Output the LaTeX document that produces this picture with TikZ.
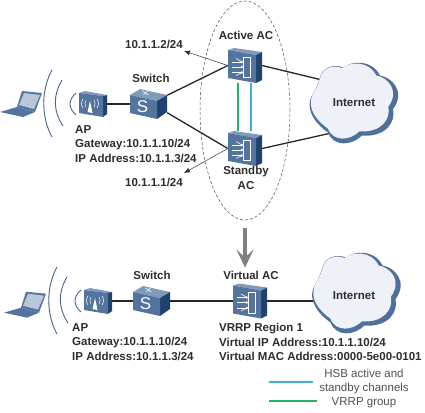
\documentclass[tikz,border=0pt]{standalone}
\usepackage{fontspec}
\usepackage{xcolor}
\setmainfont{Liberation Sans}
\usetikzlibrary{positioning,arrows.meta,shapes.geometric}
\definecolor{facemid}{RGB}{82,116,158}
\definecolor{facetop}{RGB}{130,154,186}
\definecolor{faceside}{RGB}{32,66,108}
\definecolor{cloudedge}{RGB}{78,112,155}
\definecolor{cloudfill}{RGB}{238,241,247}
\definecolor{wavecol}{RGB}{70,100,142}
\definecolor{hsbline}{RGB}{60,175,215}
\definecolor{vrrpline}{RGB}{40,175,105}
\definecolor{inktext}{RGB}{45,45,45}
\definecolor{legendtext}{RGB}{80,80,80}
\tikzset{
  lbl/.style={font=\fontsize{11.5}{14.5}\selectfont\bfseries,color=inktext,inner sep=0pt},
  legendlbl/.style={font=\fontsize{11.5}{14.5}\selectfont,color=legendtext,inner sep=0pt,align=center},
  apbox/.style={minimum width=28pt,minimum height=26pt,inner sep=0pt},
  swbox/.style={minimum width=37pt,minimum height=30pt,inner sep=0pt},
  acbox/.style={minimum width=34pt,minimum height=35pt,inner sep=0pt},
  netbox/.style={ellipse,minimum width=80pt,minimum height=72pt,inner sep=0pt},
  link/.style={line width=1.3pt,color=black!85},
  thinlink/.style={line width=0.5pt,color=black!80,-{Latex[length=6pt,width=5pt]}},
  cloudpath/.style={insert path={
    (-34,-26) .. controls (-32,-36) and (-20,-40) .. (-10.7,-36)
    .. controls (-2,-43) and (18,-44) .. (26,-28)
    .. controls (38,-26) and (52,-12) .. (39,5.7)
    .. controls (42,18) and (32,34) .. (8,32)
    .. controls (-2,42) and (-20,44) .. (-26,29)
    .. controls (-36,22) and (-50,8) .. (-42,-8)
    .. controls (-38,-14) and (-36,-20) .. (-34,-26) -- cycle}},
  pics/cloudicon/.style={code={
    \fill[cloudedge] [cloudpath];
    \fill[cloudfill,shift={(-2,-2)},scale=0.93] [cloudpath];
  }},
  pics/laptopicon/.style={code={
    \fill[facemid] (0,112) -- (17,107) -- (35,112) -- (23,117) -- cycle;
    \fill[facemid] (22,91) -- (42,93) -- (35,112) -- (17,107) -- cycle;
    \fill[facetop!55!white] (24,93) -- (40,95) -- (34,109) -- (19,105) -- cycle;
  }},
  pics/waveicon/.style={code={
    \draw[wavecol,line width=0.9pt] (52,70) .. controls (41,90) and (41,117) .. (52,137);
    \draw[wavecol,line width=0.9pt] (62,80) .. controls (53,95) and (53,111) .. (63,126);
    \draw[wavecol,line width=0.9pt] (76,93) .. controls (68,100) and (68,108) .. (76,115);
  }},
  pics/apicon/.style={code={
    \fill[facetop] (-14,-11) -- (-8,-13) -- (14,-9) -- (10,-8) -- cycle;
    \fill[faceside] (10,-8) -- (14,-9) -- (14,10) -- (10,13) -- cycle;
    \fill[facemid] (-14,-11) -- (10,-8) -- (10,13) -- (-14,9) -- cycle;
    \fill[white] (-3,-3) -- (-0.5,9) -- (-5.5,8) -- cycle;
    \draw[white,line width=0.5pt] (-7,-4) .. controls (-8.5,-2) and (-8.5,1) .. (-7,3)
      (1,-4) .. controls (2.5,-2) and (2.5,1) .. (1,3)
      (-10,-5) .. controls (-12,-2) and (-12,1) .. (-10,4)
      (4,-5) .. controls (6,-2) and (6,1) .. (4,4);
  }},
  pics/swicon/.style={code={
    \fill[facetop] (-18.5,-9) -- (-8.5,-15) -- (18.5,-9) -- (8.5,-3) -- cycle;
    \fill[faceside] (8.5,-3) -- (18.5,-9) -- (18.5,8) -- (8.5,15) -- cycle;
    \fill[facemid] (-18.5,-9) -- (8.5,-3) -- (8.5,15) -- (-18.5,9) -- cycle;
    \draw[white,line width=0.5pt] (-6,-13) -- (0,-9) (-1,-13) -- (-5,-9);
    \node[font=\fontsize{17}{17}\selectfont,color=white,inner sep=0pt] (letter) at (-6,3) {S};
  }},
  pics/acicon/.style={code={
    \fill[facetop] (-17,-15.5) -- (-11,-17.5) -- (17,-13.5) -- (11,-10.5) -- cycle;
    \fill[faceside] (11,-10.5) -- (17,-13.5) -- (17,14.5) -- (11,17.5) -- cycle;
    \fill[facemid] (-17,-15.5) -- (11,-10.5) -- (11,17.5) -- (-17,12.5) -- cycle;
    \draw[white,line width=0.6pt] (-2,-8.5) rectangle (5,12);
    \draw[white,line width=0.6pt,-{Latex[length=3pt,width=3pt]}] (-13,-3.5) -- (-1,-3.5);
    \draw[white,line width=0.6pt,-{Latex[length=3pt,width=3pt]}] (-13,1.5) -- (-1,1.5);
    \draw[white,line width=0.6pt,-{Latex[length=3pt,width=3pt]}] (-13,7) -- (-1,7);
    \draw[white,line width=0.6pt] (-9,-7) -- (-3,-3.5) (-9,10) -- (-3,7);
  }},
}
\begin{document}
\begin{tikzpicture}[x=1pt,y=-1pt]
    \useasboundingbox (0,0) rectangle (425,412);
    % Upper devices
    \node[apbox] (apA) at (93,104) {};
    \node[swbox] (swA) at (148.5,104) {};
    \node[acbox] (acA) at (245,65.5) {};
    \node[acbox] (acS) at (245,148.5) {};
    \node[netbox] (netA) at (354,103.5) {};
    \coordinate (tipA) at (184,51);
    \coordinate (tipS) at (184,173);
    % Upper links
    \draw[link] (apA.east) -- (swA.west);
    \draw[link] (swA.25) -- (acA.west);
    \draw[link] (swA.-25) -- (acS.west);
    \draw[link] (acA.east) -- (netA.143);
    \draw[link] (acS.east) -- (netA.232);
    \draw[thinlink] (acA.west) -- (tipA);
    \draw[thinlink] (acS.west) -- (tipS);
    \draw[vrrpline,line width=1.2pt] ([xshift=-7pt]acA.south) -- ([xshift=-7pt]acS.north);
    \draw[hsbline,line width=1.2pt] ([xshift=6pt]acA.south) -- ([xshift=6pt]acS.north);
    \pic at (0,0) {laptopicon};
    \pic at (0,0) {waveicon};
    \pic (apAface) at (apA) {apicon};
    \pic (swAface) at (swA) {swicon};
    \pic (acAface) at (acA) {acicon};
    \pic (acSface) at (acS) {acicon};
    \pic at (354,103.5) {cloudicon};
    \node[lbl] (netAtxt) at (354,103) {Internet};
    % Upper labels
    \node[lbl] (activetxt) at (246,35) {Active AC};
    \node[lbl] (swAtxt) at (151,78) {Switch};
    \node[lbl,anchor=west] (ipAtxt) at (125,44) {10.1.1.2/24};
    \node[lbl,anchor=west] (ipStxt) at (125,182) {10.1.1.1/24};
    \node[lbl,anchor=north west,align=left] (apAtxt) at (75,125) {AP\\Gateway:10.1.1.10/24\\IP Address:10.1.1.3/24};
    \node[lbl,anchor=north,align=center] (standbytxt) at (246,166) {Standby\\AC};
    \node[ellipse,draw=black!70,line width=0.5pt,dash pattern=on 3pt off 2pt,minimum width=90pt,minimum height=219pt,inner sep=0pt] (acgroup) at (245,110.5) {};
    % Lower devices
    \node[apbox] (apV) at (98,301) {};
    \node[swbox] (swV) at (151.5,301) {};
    \node[acbox] (acV) at (250,301) {};
    \node[netbox] (netV) at (354,296) {};
    \draw[link] (apV.east) -- (swV.west);
    \draw[link] (swV.east) -- (acV.west);
    \draw[link] (acV.east) -- (acV.east -| netV.west);
    \pic at (4,200.7) {laptopicon};
    \pic at (5,197) {waveicon};
    \pic (apVface) at (apV) {apicon};
    \pic (swVface) at (swV) {swicon};
    \pic (acVface) at (acV) {acicon};
    \pic at (356.5,293.5) {cloudicon};
    \node[lbl] (netVtxt) at (354,296) {Internet};
    % Lower labels
    \node[lbl] (swVtxt) at (152,275) {Switch};
    \node[lbl] (virtualtxt) at (251,275) {Virtual AC};
    \node[lbl,anchor=north west,align=left] (apVtxt) at (72,323) {AP\\Gateway:10.1.1.10/24\\IP Address:10.1.1.3/24};
    \node[lbl,anchor=north west,align=left] (vrrptxt) at (219,323) {VRRP Region 1\\Virtual IP Address:10.1.1.10/24\\Virtual MAC Address:0000-5e00-0101};
    % Merge arrow
    \draw[line width=3.2pt,color=black!50,-{Stealth[length=18pt,width=17pt,inset=8pt]},shorten <=8pt,shorten >=3pt]
      (acgroup.south) -- (acgroup.south |- virtualtxt.north);
    % Legend
    \coordinate (hsbL) at (269,382);
    \coordinate (hsbR) at (313,382);
    \coordinate (vrrpL) at (269,401);
    \coordinate (vrrpR) at (317,401);
    \draw[hsbline,line width=1.1pt] (hsbL) -- (hsbR);
    \draw[vrrpline,line width=1.1pt] (vrrpL) -- (vrrpR);
    \node[legendlbl] (hsbtxt) at (364,381.5) {HSB active and\\standby channels};
    \node[legendlbl] (vrrpgrouptxt) at (364,403) {VRRP group};
\end{tikzpicture}
\end{document}
